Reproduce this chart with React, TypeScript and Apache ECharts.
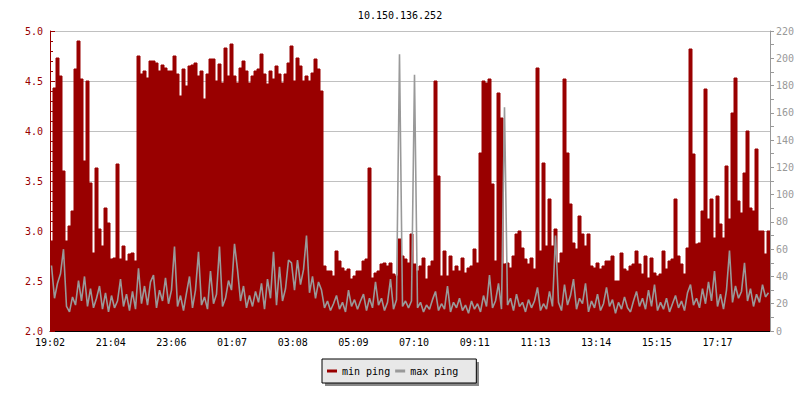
import React, { useEffect, useRef } from "react";
import * as echarts from "echarts";

const TITLE = "10.150.136.252";
const TICK_LABELS = ["19:02", "21:04", "23:06", "01:07", "03:08", "05:09", "07:10", "09:11", "11:13", "13:14", "15:15", "17:17"];
const STEP_MIN = 6; // minutes per sample
const TOTAL_MIN = 1440;
const TICK_INTERVAL = 121.36;

// min ping (left axis), one value per 6-minute sample
const MIN_PING_A = [2.9, 4.43, 4.73, 4.55, 3.6, 2.9, 3.05, 3.2, 4.62, 4.9, 4.52, 3.7, 4.5, 3.48, 2.78, 3.63, 3.02, 2.85, 3.23, 3.08, 2.72, 2.73, 3.67, 2.72, 2.85, 2.7, 2.77, 2.78, 2.7, 4.75, 4.57, 4.6, 4.53, 4.7, 4.7, 4.68, 4.6, 4.66, 4.63, 4.6];
const MIN_PING_B = [4.6, 4.75, 4.57, 4.35, 4.62, 4.45, 4.65, 4.66, 4.68, 4.55, 4.6, 4.32, 4.57, 4.72, 4.72, 4.5, 4.67, 4.48, 4.83, 4.55, 4.87, 4.55, 4.48, 4.63, 4.7, 4.6, 4.48, 4.55, 4.6, 4.62, 4.77, 4.57, 4.47, 4.6, 4.52, 4.65, 4.57, 4.48, 4.57, 4.68];
const MIN_PING_C = [4.85, 4.5, 4.73, 4.65, 4.5, 4.55, 4.5, 4.58, 4.72, 4.62, 4.4, 2.65, 2.6, 2.6, 2.55, 2.8, 2.7, 2.63, 2.6, 2.62, 2.52, 2.55, 2.6, 2.6, 2.7, 2.72, 3.63, 2.53, 2.58, 2.6, 2.67, 2.68, 2.65, 2.68, 2.57, 2.55, 2.92, 2.75, 2.72, 2.68];
const MIN_PING_D = [2.97, 2.67, 2.6, 2.65, 2.73, 2.52, 2.65, 2.7, 4.5, 3.55, 2.55, 2.8, 2.55, 2.75, 2.6, 2.65, 2.6, 2.73, 2.58, 2.63, 2.65, 2.82, 2.68, 3.78, 4.5, 4.48, 4.52, 3.47, 2.7, 4.38, 4.13, 2.67, 2.68, 2.63, 2.75, 2.97, 3.0, 2.83, 2.72, 2.67];
const MIN_PING_E = [2.73, 2.62, 4.63, 2.8, 3.68, 2.85, 3.32, 2.85, 3.02, 2.68, 2.78, 4.52, 3.78, 3.27, 2.88, 2.82, 3.15, 2.97, 2.85, 2.97, 2.65, 2.63, 2.68, 2.62, 2.65, 2.7, 2.7, 2.75, 2.5, 2.5, 2.78, 2.62, 2.6, 2.65, 2.67, 2.8, 2.67, 2.57, 2.75, 2.53];
const MIN_PING_F = [2.73, 2.58, 2.55, 2.57, 2.8, 2.62, 2.7, 2.72, 3.32, 2.75, 2.67, 2.57, 2.83, 4.82, 3.77, 2.87, 2.88, 3.2, 4.42, 3.12, 3.32, 2.93, 3.35, 3.07, 2.93, 3.65, 3.12, 4.18, 4.53, 3.3, 3.18, 3.58, 4.0, 3.23, 3.2, 3.82, 3.0, 3.0, 2.77, 3.0];

// max ping (right axis)
const MAX_PING_A = [48, 24, 35, 42, 60, 18, 14, 25, 19, 37, 22, 40, 18, 31, 17, 24, 33, 16, 28, 14, 26, 17, 22, 38, 18, 27, 15, 29, 16, 46, 20, 33, 19, 36, 41, 17, 30, 22, 39, 20];
const MAX_PING_B = [30, 62, 18, 26, 15, 28, 40, 17, 30, 58, 19, 25, 16, 44, 20, 27, 62, 18, 24, 37, 30, 64, 45, 22, 33, 17, 26, 18, 29, 21, 35, 16, 38, 24, 58, 19, 47, 22, 31, 52];
const MAX_PING_C = [50, 30, 52, 34, 45, 70, 28, 40, 24, 36, 30, 17, 22, 15, 20, 26, 16, 21, 14, 30, 18, 23, 16, 22, 27, 15, 24, 17, 36, 19, 24, 15, 21, 38, 16, 23, 203, 18, 22, 17];
const MAX_PING_D = [22, 188, 17, 21, 14, 19, 16, 23, 29, 15, 20, 16, 33, 14, 21, 17, 24, 15, 19, 13, 22, 16, 20, 14, 26, 18, 41, 17, 22, 35, 16, 164, 19, 24, 15, 27, 18, 21, 14, 23];
const MAX_PING_E = [17, 22, 32, 15, 20, 16, 29, 18, 70, 21, 15, 34, 19, 26, 38, 16, 24, 20, 35, 14, 22, 17, 27, 15, 20, 32, 18, 23, 13, 21, 16, 25, 17, 14, 22, 29, 18, 24, 16, 30];
const MAX_PING_F = [18, 34, 15, 21, 16, 24, 14, 20, 26, 17, 22, 15, 28, 34, 19, 24, 17, 31, 20, 36, 22, 44, 18, 27, 16, 30, 59, 21, 33, 24, 29, 50, 22, 31, 18, 27, 21, 34, 25, 28];

const MIN_PING = [...MIN_PING_A, ...MIN_PING_B, ...MIN_PING_C, ...MIN_PING_D, ...MIN_PING_E, ...MIN_PING_F];
const MAX_PING = [...MAX_PING_A, ...MAX_PING_B, ...MAX_PING_C, ...MAX_PING_D, ...MAX_PING_E, ...MAX_PING_F];

const RED = "#990000";
const GRAY = "#999999";
const FONT = "DejaVu Sans Mono";

function toStepPoints(values: number[]) {
  const pts = values.map((v, i) => [i * STEP_MIN, v]);
  pts.push([TOTAL_MIN, values[values.length - 1]]);
  return pts;
}

function toMidPoints(values: number[]) {
  return values.map((v, i) => [i * STEP_MIN + STEP_MIN / 2, v]);
}

export default function App() {
  const ref = useRef<HTMLDivElement>(null);
  useEffect(() => {
    if (!ref.current) return;
    const chart = echarts.init(ref.current, null, { renderer: "svg" });
    chart.setOption({
      animation: false,
      backgroundColor: "#ffffff",
      title: {
        text: TITLE,
        left: "center",
        top: 5,
        textStyle: { fontFamily: FONT, fontSize: 10, fontWeight: "normal", color: "#000" },
      },
      grid: { left: 50, right: 30, top: 31, bottom: 69, containLabel: false },
      graphic: [
        { type: "rect", left: 325, top: 362, shape: { width: 154, height: 24 }, style: { fill: "#888888" }, z: 0 },
      ],
      legend: {
        left: 322,
        top: 359,
        orient: "horizontal",
        padding: [6, 18, 6, 5],
        itemGap: 5,
        itemWidth: 10,
        itemHeight: 3,
        backgroundColor: "#e8e8e8",
        borderColor: "#000",
        borderWidth: 1,
        z: 10,
        data: [
          { name: "min ping", icon: "rect" },
          { name: "max ping", icon: "rect" },
        ],
        textStyle: { fontFamily: FONT, fontSize: 10, color: "#000", lineHeight: 12 },
      },
      xAxis: {
        type: "value",
        min: 0,
        max: TOTAL_MIN,
        interval: TICK_INTERVAL,
        axisLine: { show: true, lineStyle: { color: "#000", width: 1 } },
        axisTick: { show: true, inside: true, length: 5, lineStyle: { color: "#000" } },
        splitLine: { show: false },
        axisLabel: {
          show: true,
          margin: 6,
          showMaxLabel: false,
          fontFamily: FONT,
          fontSize: 10,
          color: "#000",
          formatter: (v: number) => {
            const idx = Math.round(v / TICK_INTERVAL);
            return Math.abs(idx * TICK_INTERVAL - v) < 0.5 && TICK_LABELS[idx] ? TICK_LABELS[idx] : "";
          },
        },
      },
      yAxis: [
        {
          type: "value",
          position: "left",
          min: 2,
          max: 5,
          interval: 0.5,
          axisLine: { show: true, lineStyle: { color: RED, width: 1 } },
          axisTick: { show: true, inside: true, length: 5, lineStyle: { color: RED } },
          minorTick: { show: true, splitNumber: 5, length: 3, lineStyle: { color: RED } },
          splitLine: { show: true, lineStyle: { color: "#c0c0c0", width: 1 } },
          axisLabel: { margin: 7, fontFamily: FONT, fontSize: 10, color: RED, formatter: (v: number) => v.toFixed(1) },
        },
        {
          type: "value",
          position: "right",
          min: 0,
          max: 220,
          interval: 20,
          axisLine: { show: true, lineStyle: { color: GRAY, width: 1 } },
          axisTick: { show: true, inside: false, length: 4, lineStyle: { color: GRAY } },
          minorTick: { show: true, splitNumber: 2, length: 4, lineStyle: { color: GRAY } },
          splitLine: { show: false },
          axisLabel: { margin: 6, fontFamily: FONT, fontSize: 10, color: GRAY },
        },
      ],
      series: [
        {
          name: "min ping",
          type: "line",
          yAxisIndex: 0,
          step: "end",
          showSymbol: false,
          symbol: "none",
          color: RED,
          lineStyle: { width: 1, color: RED },
          areaStyle: { color: RED, opacity: 1, origin: "start" },
          data: toStepPoints(MIN_PING),
          z: 2,
        },
        {
          name: "max ping",
          type: "line",
          yAxisIndex: 1,
          showSymbol: false,
          symbol: "none",
          color: GRAY,
          lineStyle: { width: 1.6, color: GRAY },
          data: toMidPoints(MAX_PING),
          z: 3,
        },
      ],
    });
    return () => chart.dispose();
  }, []);
  return <div ref={ref} style={{ position: "fixed", left: 0, top: 0, width: 800, height: 400 }} />;
}
